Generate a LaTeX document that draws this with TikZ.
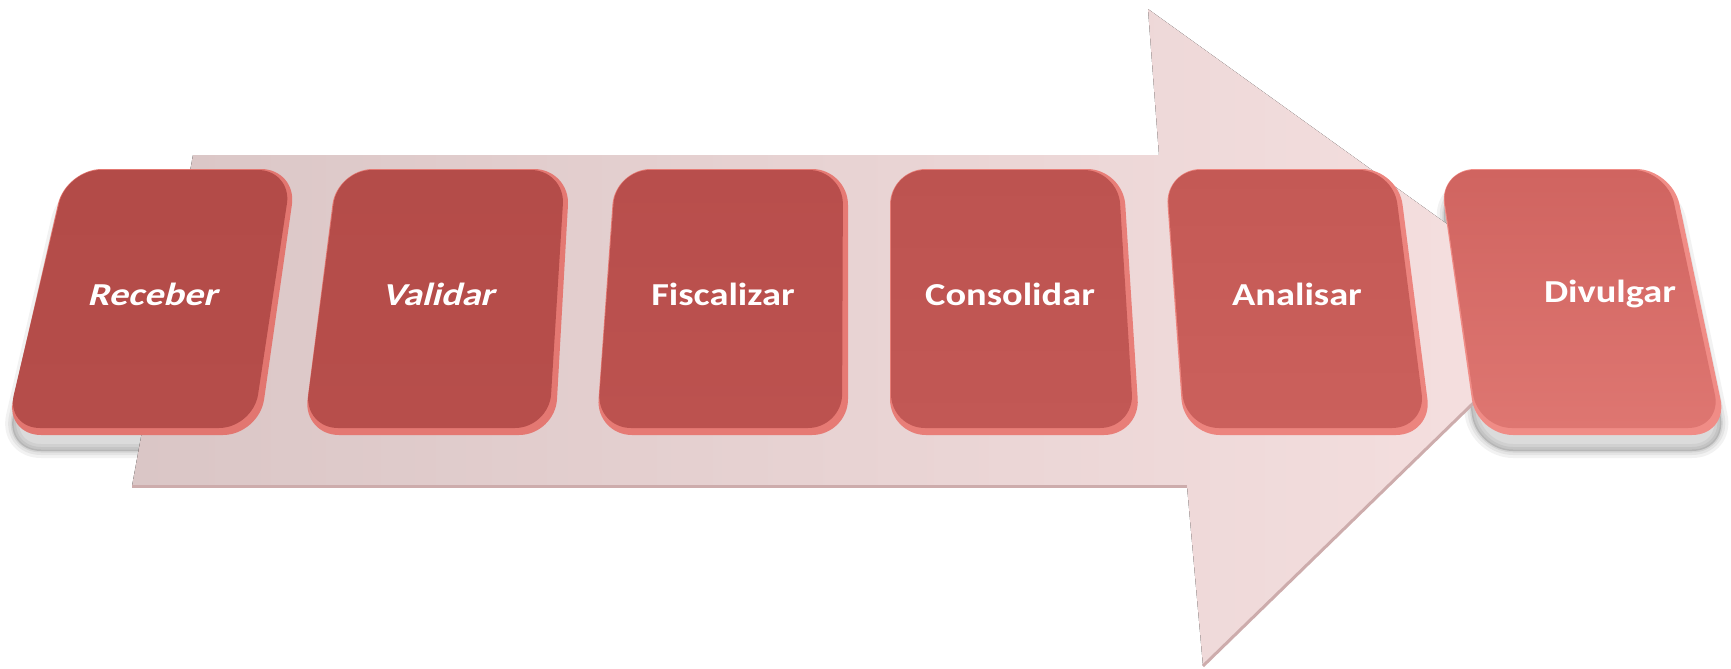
\documentclass[tikz,border=0pt]{standalone}
\usepackage{fontspec}
\usepackage{graphicx}
\setmainfont{Carlito}
\newfontfamily\oblfont[FakeSlant=0.22]{Carlito}
\definecolor{arrL}{RGB}{218,198,198}
\definecolor{arrR}{RGB}{246,224,224}
\definecolor{arrEdge}{RGB}{205,172,172}
\definecolor{bxa}{RGB}{179,75,72}
\definecolor{bxab}{RGB}{181,77,74}
\definecolor{bxarim}{RGB}{226,118,112}
\definecolor{bxb}{RGB}{180,76,73}
\definecolor{bxbb}{RGB}{183,78,75}
\definecolor{bxbrim}{RGB}{228,120,114}
\definecolor{bxc}{RGB}{184,78,76}
\definecolor{bxcb}{RGB}{188,82,79}
\definecolor{bxcrim}{RGB}{230,122,116}
\definecolor{bxd}{RGB}{189,83,80}
\definecolor{bxdb}{RGB}{194,88,85}
\definecolor{bxdrim}{RGB}{232,126,120}
\definecolor{bxe}{RGB}{196,89,85}
\definecolor{bxeb}{RGB}{203,96,92}
\definecolor{bxerim}{RGB}{236,132,126}
\definecolor{bxf}{RGB}{208,100,96}
\definecolor{bxfb}{RGB}{222,118,113}
\definecolor{bxfrim}{RGB}{240,140,134}
\tikzset{
  stagetext/.style={text=white, inner sep=0pt,
    font=\bfseries\fontsize{16pt}{18pt}\selectfont},
  shadowlayer/.style={black, line join=round, rounded corners=18pt}
}
% #1..#4 corners TL TR BR BL as x,y
\newcommand{\boxshadow}[4]{%
  \foreach \w/\o in {14/0.05,8/0.06,3/0.07}{%
    \draw[shadowlayer, line width=\w*0.5pt, opacity=\o]
      ([yshift=-8pt]#1) -- ([yshift=-8pt]#2) -- ([yshift=-8pt]#3) -- ([yshift=-8pt]#4) -- cycle;}
  \fill[shadowlayer, opacity=0.14]
      ([yshift=-8pt]#1) -- ([yshift=-8pt]#2) -- ([yshift=-8pt]#3) -- ([yshift=-8pt]#4) -- cycle;
}
% #1 name, #2..#5 corners, #6 colour, #7 text position, #8 text
\newcommand{\stagebox}[8]{%
  \fill[#6rim, rounded corners=18pt] (#2) -- (#3) -- (#4) -- (#5) -- cycle;
  \shade[top color=#6, bottom color=#6b, rounded corners=17pt]
     ([xshift=0.5pt,yshift=-0.5pt]#2) -- ([xshift=-2.5pt,yshift=-0.5pt]#3) --
     ([xshift=-3pt,yshift=3.5pt]#4) -- ([xshift=0.5pt,yshift=3.5pt]#5) -- cycle;
  \node[stagetext] (#1) at (#7) {#8};
}
\begin{document}
\begin{tikzpicture}[x=0.5pt,y=-0.5pt]
\useasboundingbox (0,0) rectangle (1731,669);
% shadows (behind the arrow)
\boxshadow{66,169}{297,169}{259,435}{5,435}
\boxshadow{337,169}{570,169}{555,435}{303,435}
\boxshadow{615,169}{848,169}{848,435}{596,435}
\boxshadow{890,169}{1123,169}{1140,435}{890,435}
\boxshadow{1165,169}{1398,169}{1432,435}{1184,435}
\boxshadow{1439,169}{1672,169}{1728,435}{1477,435}
% big arrow
\coordinate (a1) at (193,155);
\coordinate (a2) at (1159,155);
\coordinate (a3) at (1148,9);
\coordinate (a4) at (1568,311);
\coordinate (a5) at (1203,666);
\coordinate (a6) at (1187,486);
\coordinate (a7) at (132,486);
\fill[left color=arrL, right color=arrR] (a1) -- (a2) -- (a3) -- (a4) -- (a5) -- (a6) -- (a7) -- cycle;
\draw[arrEdge, line width=1.5pt] (a7) -- (a6);
\draw[arrEdge, line width=1.5pt] (a5) -- (a4);
% stages
\stagebox{s1}{66,169}{297,169}{259,435}{5,435}{bxa}{152,294}{\scalebox{1.2}[1]{\oblfont\bfseries Receber}}
\stagebox{s2}{337,169}{570,169}{555,435}{303,435}{bxb}{438,294}{\scalebox{1.2}[1]{\oblfont\bfseries Validar}}
\stagebox{s3}{615,169}{848,169}{848,435}{596,435}{bxc}{723,294}{\scalebox{1.2}[1]{Fiscalizar}}
\stagebox{s4}{890,169}{1123,169}{1140,435}{890,435}{bxd}{1010,294}{\scalebox{1.2}[1]{Consolidar}}
\stagebox{s5}{1165,169}{1398,169}{1432,435}{1184,435}{bxe}{1297,294}{\scalebox{1.2}[1]{Analisar}}
\stagebox{s6}{1439,169}{1672,169}{1728,435}{1477,435}{bxf}{1610,294}{\scalebox{1.2}[1]{Divulgar}}
\end{tikzpicture}
\end{document}
